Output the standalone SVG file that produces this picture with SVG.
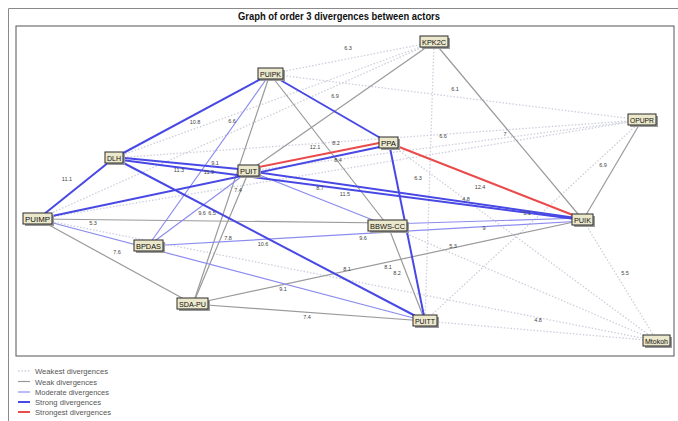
<svg xmlns="http://www.w3.org/2000/svg" width="678" height="421" viewBox="0 0 678 421">
<style>
.frame{fill:none;stroke:#8a8a8a;stroke-width:1}
.plot{fill:#fff;stroke:#555;stroke-width:1}
.title{font-family:"Liberation Sans",Arial,sans-serif;font-size:10px;font-weight:bold;fill:#111}
.e0{stroke:#cdcfdc;stroke-width:1.3;stroke-dasharray:1.5 1.8;fill:none}
.e1{stroke:#9a9a9a;stroke-width:1.2;fill:none}
.e2{stroke:#8c8cf0;stroke-width:1.2;fill:none}
.e3{stroke:#4848e4;stroke-width:2;fill:none}
.e4{stroke:#ea4a4a;stroke-width:2;fill:none}
.lbl{font-family:"Liberation Sans",Arial,sans-serif;font-size:5.5px;fill:#444;text-anchor:middle}
.shadow{fill:#9a9a9a}
.box{fill:#ece8cc;stroke:#2a2a2a;stroke-width:1}
.nt{font-family:"Liberation Sans",Arial,sans-serif;font-size:8px;fill:#111;text-anchor:middle}
.leg{font-family:"Liberation Sans",Arial,sans-serif;font-size:8px;fill:#555}
</style>
<rect x="0" y="0" width="678" height="421" fill="#fff"/>
<path class="frame" d="M8.5 421V8.5H678"/>
<rect class="plot" x="16" y="26" width="658" height="330"/>
<text class="title" x="339" y="20" text-anchor="middle" textLength="202" lengthAdjust="spacingAndGlyphs">Graph of order 3 divergences between actors</text>

<g id="connectors">
  <!-- weakest -->
  <line class="e0" x1="270" y1="74" x2="434" y2="42"/>
  <line class="e0" x1="270" y1="74" x2="642" y2="120"/>
  <line class="e0" x1="434" y1="42" x2="114" y2="158"/>
  <line class="e0" x1="434" y1="42" x2="38" y2="219"/>
  <line class="e0" x1="434" y1="42" x2="425" y2="321"/>
  <line class="e0" x1="114" y1="158" x2="642" y2="120"/>
  <line class="e0" x1="249" y1="171" x2="642" y2="120"/>
  <line class="e0" x1="38" y1="219" x2="642" y2="120"/>
  <line class="e0" x1="642" y1="120" x2="425" y2="321"/>
  <line class="e0" x1="583" y1="220" x2="657" y2="341"/>
  <line class="e0" x1="425" y1="321" x2="657" y2="341"/>
  <line class="e0" x1="38" y1="219" x2="657" y2="341"/>
  <line class="e0" x1="388" y1="226" x2="657" y2="341"/>
  <line class="e0" x1="389" y1="143" x2="657" y2="341"/>
  <!-- weak -->
  <line class="e1" x1="434" y1="42" x2="249" y2="171"/>
  <line class="e1" x1="434" y1="42" x2="583" y2="220"/>
  <line class="e1" x1="270" y1="74" x2="193" y2="304"/>
  <line class="e1" x1="270" y1="74" x2="388" y2="226"/>
  <line class="e1" x1="388" y1="226" x2="425" y2="321"/>
  <line class="e1" x1="249" y1="171" x2="193" y2="304"/>
  <line class="e1" x1="38" y1="219" x2="388" y2="223"/>
  <line class="e1" x1="38" y1="219" x2="193" y2="304"/>
  <line class="e1" x1="193" y1="304" x2="425" y2="321"/>
  <line class="e1" x1="193" y1="304" x2="583" y2="220"/>
  <line class="e1" x1="642" y1="120" x2="583" y2="220"/>
  <!-- moderate -->
  <line class="e2" x1="270" y1="74" x2="148" y2="246"/>
  <line class="e2" x1="148" y1="246" x2="249" y2="171"/>
  <line class="e2" x1="249" y1="171" x2="388" y2="226"/>
  <line class="e2" x1="38" y1="219" x2="425" y2="321"/>
  <line class="e2" x1="148" y1="246" x2="583" y2="221"/>
  <line class="e2" x1="388" y1="224" x2="583" y2="218"/>
  <!-- strong -->
  <line class="e3" x1="270" y1="74" x2="114" y2="158"/>
  <line class="e3" x1="270" y1="74" x2="389" y2="143"/>
  <line class="e3" x1="114" y1="158" x2="38" y2="219"/>
  <line class="e3" x1="114" y1="157" x2="249" y2="170"/>
  <line class="e3" x1="114" y1="159" x2="583" y2="220"/>
  <line class="e3" x1="114" y1="158" x2="425" y2="321"/>
  <line class="e3" x1="38" y1="219" x2="389" y2="145"/>
  <line class="e3" x1="249" y1="171" x2="583" y2="219"/>
  <line class="e3" x1="389" y1="143" x2="425" y2="321"/>
  <!-- strongest -->
  <line class="e4" x1="249" y1="169" x2="389" y2="141"/>
  <line class="e4" x1="389" y1="143" x2="583" y2="219"/>
</g>

<g id="labels">
  <text class="lbl" x="348" y="50">6.3</text>
  <text class="lbl" x="335" y="98">6.9</text>
  <text class="lbl" x="455" y="91">6.1</text>
  <text class="lbl" x="195" y="124">10.8</text>
  <text class="lbl" x="232" y="123">6.6</text>
  <text class="lbl" x="505" y="136">7</text>
  <text class="lbl" x="443" y="138">6.6</text>
  <text class="lbl" x="315" y="149">12.1</text>
  <text class="lbl" x="336" y="145">8.2</text>
  <text class="lbl" x="338" y="162">8.4</text>
  <text class="lbl" x="215" y="165">9.1</text>
  <text class="lbl" x="179" y="172">11.3</text>
  <text class="lbl" x="209" y="174">11.9</text>
  <text class="lbl" x="67" y="181">11.1</text>
  <text class="lbl" x="418" y="180">6.3</text>
  <text class="lbl" x="603" y="167">6.9</text>
  <text class="lbl" x="480" y="189">12.4</text>
  <text class="lbl" x="238" y="192">7.4</text>
  <text class="lbl" x="320" y="190">8.7</text>
  <text class="lbl" x="345" y="196">11.5</text>
  <text class="lbl" x="466" y="201">4.8</text>
  <text class="lbl" x="527" y="215">5.1</text>
  <text class="lbl" x="202" y="215">9.6</text>
  <text class="lbl" x="212" y="215">6.5</text>
  <text class="lbl" x="93" y="225">5.3</text>
  <text class="lbl" x="484" y="230">9</text>
  <text class="lbl" x="228" y="240">7.8</text>
  <text class="lbl" x="263" y="246">10.6</text>
  <text class="lbl" x="363" y="240">9.6</text>
  <text class="lbl" x="453" y="248">5.3</text>
  <text class="lbl" x="117" y="254">7.6</text>
  <text class="lbl" x="347" y="271">8.1</text>
  <text class="lbl" x="388" y="269">8.1</text>
  <text class="lbl" x="397" y="275">8.2</text>
  <text class="lbl" x="283" y="291">9.1</text>
  <text class="lbl" x="307" y="319">7.4</text>
  <text class="lbl" x="625" y="275">5.5</text>
  <text class="lbl" x="538" y="322">4.8</text>
</g>

<g id="node-KPK2C"><rect class="shadow" x="422" y="38" width="28" height="11"/><rect class="box" x="420" y="36" width="28" height="11"/><text class="nt" x="434" y="44.5" textLength="24" lengthAdjust="spacingAndGlyphs">KPK2C</text></g>
<g id="node-PUIPK"><rect class="shadow" x="260" y="70" width="25" height="11"/><rect class="box" x="258" y="68" width="25" height="11"/><text class="nt" x="270.5" y="76.5" textLength="21" lengthAdjust="spacingAndGlyphs">PUIPK</text></g>
<g id="node-OPUPR"><rect class="shadow" x="630" y="116" width="28" height="11"/><rect class="box" x="628" y="114" width="28" height="11"/><text class="nt" x="642" y="122.5" textLength="24" lengthAdjust="spacingAndGlyphs">OPUPR</text></g>
<g id="node-DLH"><rect class="shadow" x="107" y="154" width="18" height="11"/><rect class="box" x="105" y="152" width="18" height="11"/><text class="nt" x="114" y="160.5" textLength="14" lengthAdjust="spacingAndGlyphs">DLH</text></g>
<g id="node-PUIT"><rect class="shadow" x="240" y="167" width="21" height="11"/><rect class="box" x="238" y="165" width="21" height="11"/><text class="nt" x="248.5" y="173.5" textLength="17" lengthAdjust="spacingAndGlyphs">PUIT</text></g>
<g id="node-PPA"><rect class="shadow" x="381" y="139" width="19" height="11"/><rect class="box" x="379" y="137" width="19" height="11"/><text class="nt" x="388.5" y="145.5" textLength="15" lengthAdjust="spacingAndGlyphs">PPA</text></g>
<g id="node-PUIK"><rect class="shadow" x="574" y="216" width="21" height="11"/><rect class="box" x="572" y="214" width="21" height="11"/><text class="nt" x="582.5" y="222.5" textLength="17" lengthAdjust="spacingAndGlyphs">PUIK</text></g>
<g id="node-PUIMP"><rect class="shadow" x="25" y="215" width="29" height="11"/><rect class="box" x="23" y="213" width="29" height="11"/><text class="nt" x="37.5" y="221.5" textLength="25" lengthAdjust="spacingAndGlyphs">PUIMP</text></g>
<g id="node-BPDAS"><rect class="shadow" x="136" y="242" width="29" height="11"/><rect class="box" x="134" y="240" width="29" height="11"/><text class="nt" x="148.5" y="248.5" textLength="25" lengthAdjust="spacingAndGlyphs">BPDAS</text></g>
<g id="node-BBWS-CC"><rect class="shadow" x="370" y="222" width="39" height="11"/><rect class="box" x="368" y="220" width="39" height="11"/><text class="nt" x="387.5" y="228.5" textLength="35" lengthAdjust="spacingAndGlyphs">BBWS-CC</text></g>
<g id="node-SDA-PU"><rect class="shadow" x="179" y="300" width="31" height="11"/><rect class="box" x="177" y="298" width="31" height="11"/><text class="nt" x="192.5" y="306.5" textLength="27" lengthAdjust="spacingAndGlyphs">SDA-PU</text></g>
<g id="node-PUITT"><rect class="shadow" x="415" y="317" width="24" height="11"/><rect class="box" x="413" y="315" width="24" height="11"/><text class="nt" x="425" y="323.5" textLength="20" lengthAdjust="spacingAndGlyphs">PUITT</text></g>
<g id="node-Mtokoh"><rect class="shadow" x="645" y="337" width="27" height="11"/><rect class="box" x="643" y="335" width="27" height="11"/><text class="nt" x="656.5" y="343.5" textLength="23" lengthAdjust="spacingAndGlyphs">Mtokoh</text></g>

<g id="legend">
  <line class="e0" x1="18" y1="371" x2="30" y2="371"/>
  <text class="leg" x="35" y="374" textLength="73" lengthAdjust="spacingAndGlyphs">Weakest divergences</text>
  <line class="e1" x1="18" y1="381.5" x2="30" y2="381.5"/>
  <text class="leg" x="35" y="384.5" textLength="62" lengthAdjust="spacingAndGlyphs">Weak divergences</text>
  <line class="e2" x1="18" y1="392" x2="30" y2="392"/>
  <text class="leg" x="35" y="395" textLength="74" lengthAdjust="spacingAndGlyphs">Moderate divergences</text>
  <line class="e3" x1="18" y1="402" x2="30" y2="402"/>
  <text class="leg" x="35" y="405" textLength="66" lengthAdjust="spacingAndGlyphs">Strong divergences</text>
  <line class="e4" x1="18" y1="412" x2="30" y2="412"/>
  <text class="leg" x="35" y="415" textLength="76" lengthAdjust="spacingAndGlyphs">Strongest divergences</text>
</g>
</svg>
